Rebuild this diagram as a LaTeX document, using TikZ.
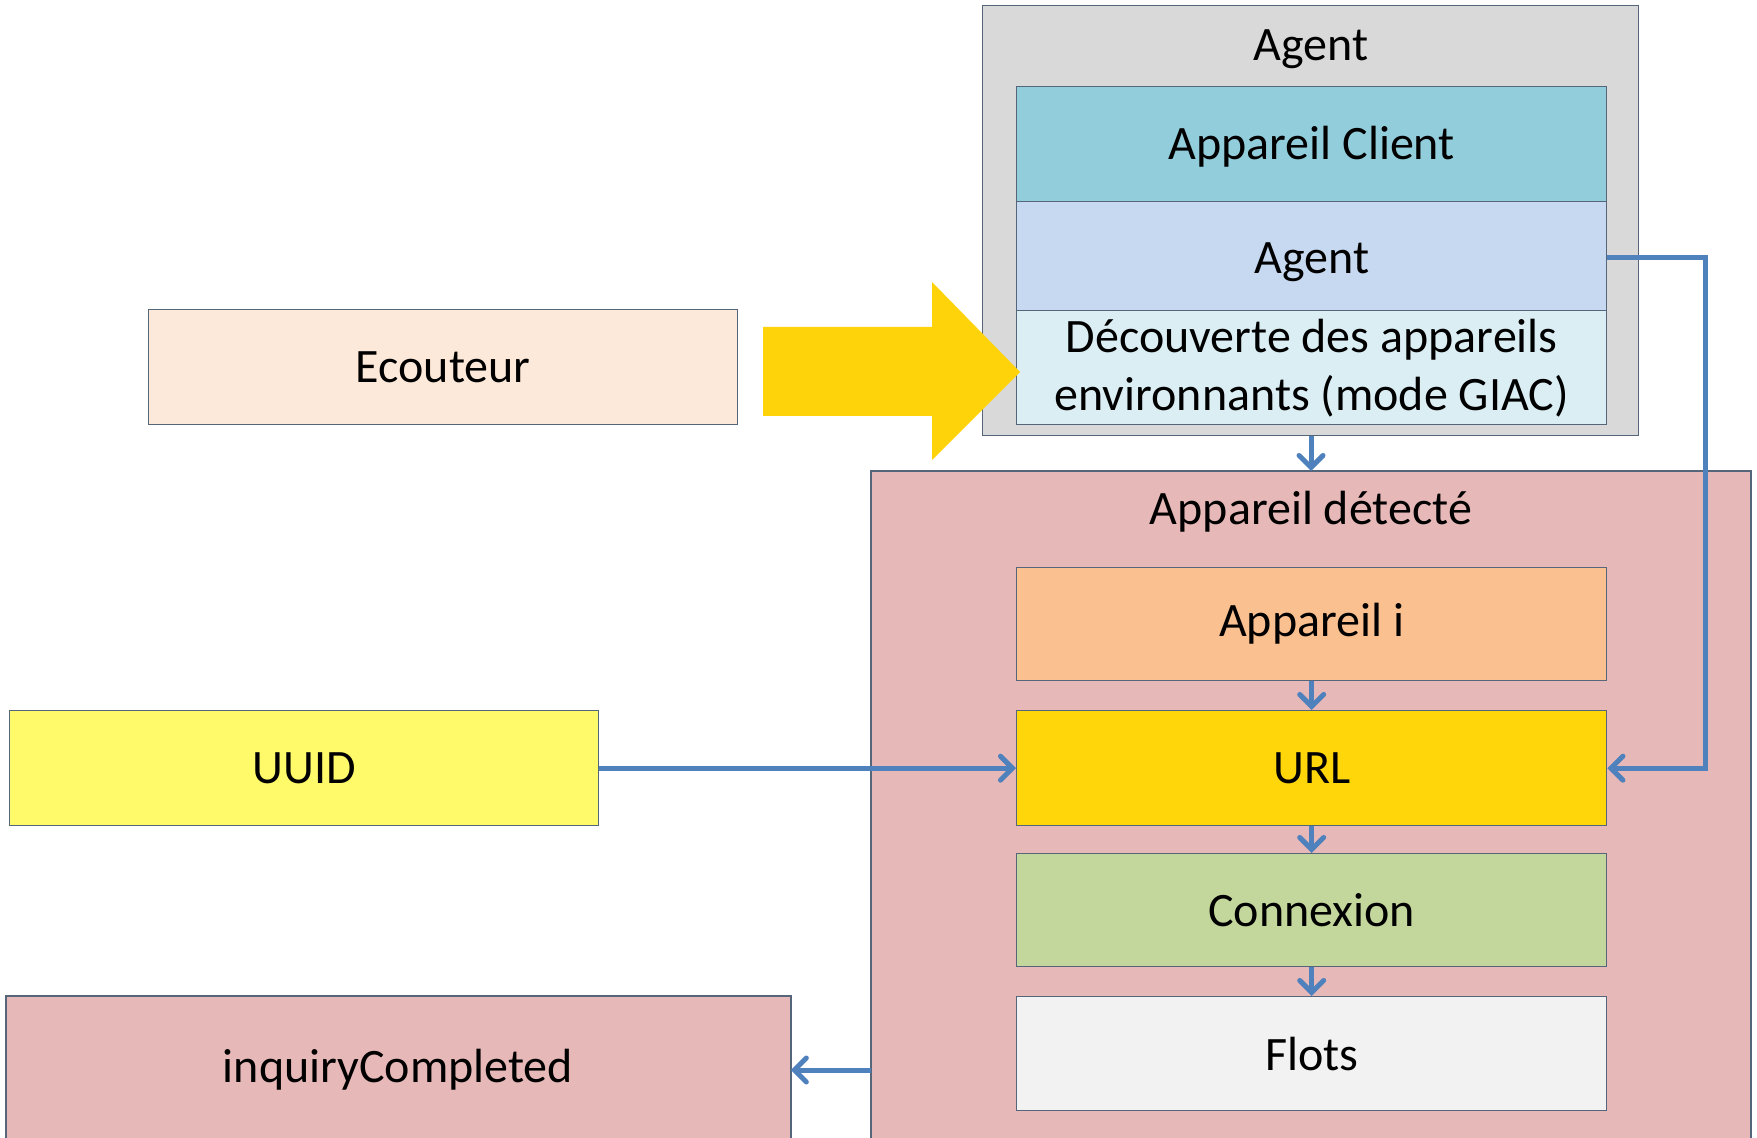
\documentclass[tikz,border=0pt]{standalone}
\usepackage{fontspec}
\setmainfont{Carlito}
\usetikzlibrary{arrows.meta}
\definecolor{bordc}{HTML}{56667A}
\definecolor{linkc}{HTML}{4F81BD}
\definecolor{grayc}{HTML}{D9D9D9}
\definecolor{clientc}{HTML}{92CDDC}
\definecolor{agentc}{HTML}{C6D9F1}
\definecolor{decc}{HTML}{DBEEF4}
\definecolor{pinkc}{HTML}{E6B8B7}
\definecolor{appc}{HTML}{FAC090}
\definecolor{urlc}{HTML}{FFD60A}
\definecolor{connc}{HTML}{C3D69B}
\definecolor{flotc}{HTML}{F2F2F2}
\definecolor{ecoc}{HTML}{FDE9D9}
\definecolor{uuidc}{HTML}{FFFA6A}
\definecolor{bigarrowc}{HTML}{FFD30A}
\begin{document}
\begin{tikzpicture}[x=0.5pt,y=-0.5pt,
  box/.style={draw=bordc, line width=0.7pt, rectangle, anchor=north west, inner sep=0pt,
    font=\fontsize{24}{29}\selectfont, align=center},
  inbox/.style={box, minimum width=295pt, minimum height=57pt},
  link/.style={draw=linkc, line width=2.5pt, -{Straight Barb[length=6pt,width=12pt,line cap=round]}},
  title/.style={font=\fontsize{24}{29}\selectfont, inner sep=0pt}
]
\useasboundingbox (0,0) rectangle (1757,1138);
% gray Agent container
\node[box, fill=grayc, minimum width=328pt, minimum height=215pt] (agentbox) at (982,5) {};
\node[title] (agenttitle) at (1311,49) {Agent};
\node[inbox, fill=clientc, minimum height=57.5pt, text height=19pt] (client) at (1016,86) {Appareil Client};
\node[inbox, fill=agentc, minimum height=54.5pt, text height=21pt] (agent) at (1016,201) {Agent};
\node[inbox, fill=decc, minimum height=57pt] (decouv) at (1016,310) {Découverte des appareils\\environnants (mode GIAC)};
% pink container
\node[rectangle, anchor=north west, fill=pinkc, minimum width=439.5pt, minimum height=333.5pt, inner sep=0pt] (detect) at (871,471) {};
\draw[draw=bordc, line width=0.7pt] (detect.south west) -- (detect.north west) -- (detect.north east) -- (detect.south east);
\node[title] (detecttitle) at (1311,512) {Appareil détecté};
\node[inbox, fill=appc, minimum height=56.5pt] (appi) at (1016,567) {Appareil i};
\node[inbox, fill=urlc, minimum height=57.5pt] (url) at (1016,710) {URL};
\node[inbox, fill=connc, minimum height=56.5pt] (conn) at (1016,853) {Connexion};
\node[inbox, fill=flotc] (flots) at (1016,996) {Flots};
% left boxes
\node[box, fill=ecoc, minimum width=294.5pt, minimum height=57.5pt] (ecout) at (148,309) {Ecouteur};
\node[box, fill=uuidc, minimum width=294.5pt, minimum height=57.5pt] (uuid) at (9,710) {UUID};
\node[rectangle, anchor=north west, fill=pinkc, minimum width=392pt, minimum height=71pt, inner sep=0pt] (inq) at (6,996) {};
\draw[draw=bordc, line width=0.7pt] (inq.south west) -- (inq.north west) -- (inq.north east) -- (inq.south east);
\node[title] (inqtext) at (398,1070) {inquiryCompleted};
% big yellow arrow
\fill[bigarrowc] (763,327) -- (932,327) -- (932,282) -- (1020,372) -- (932,460) -- (932,416) -- (763,416) -- cycle;
% connectors
\draw[link] (agentbox.south -| detecttitle) -- (detect.north -| detecttitle);
\draw[link] (appi) -- (url);
\draw[link] (url) -- (conn);
\draw[link] (conn) -- (flots);
\draw[link] (uuid.east) -- (url.west);
\coordinate (c1) at (1705,258);
\draw[link] (agent.east |- c1) -- (c1) -- (c1 |- url.east) -- (url.east);
\draw[link] (detect.west |- inqtext) -- (inq.east |- inqtext);
\end{tikzpicture}
\end{document}
